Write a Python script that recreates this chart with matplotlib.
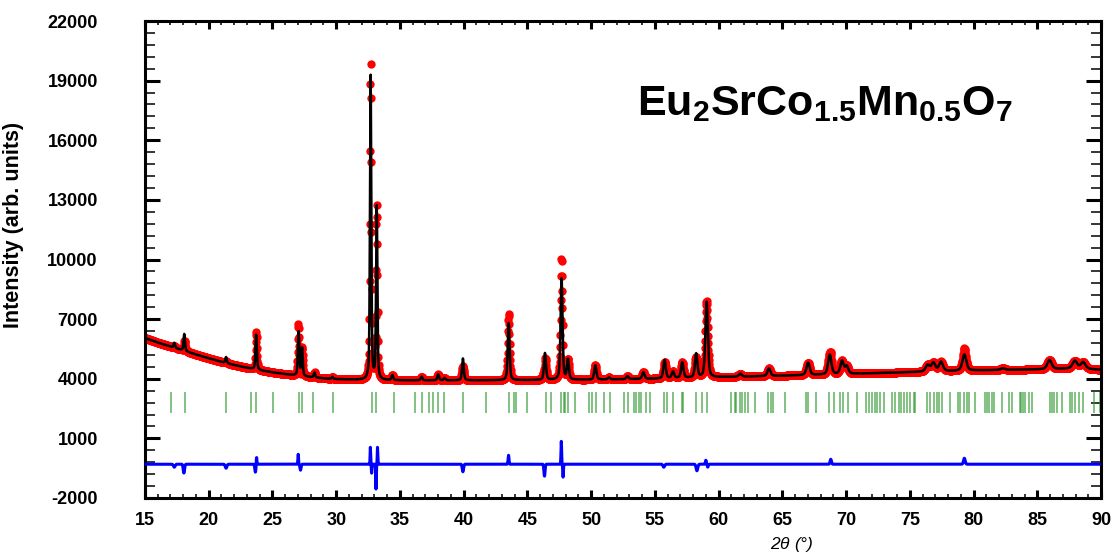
#!/usr/bin/env python3
"""Rietveld refinement plot for Eu2SrCo1.5Mn0.5O7 (observed, calculated, Bragg, difference)."""

import numpy as np
import matplotlib

matplotlib.use("Agg")
import matplotlib.pyplot as plt

plt.rcParams["font.family"] = ["Liberation Sans", "DejaVu Sans"]
plt.rcParams["axes.unicode_minus"] = False
plt.rcParams["mathtext.fontset"] = "custom"
plt.rcParams["mathtext.rm"] = "Liberation Sans:bold"
plt.rcParams["mathtext.bf"] = "Liberation Sans:bold"
plt.rcParams["mathtext.it"] = "Liberation Sans:italic"

# background knots (2theta, counts)
bg_theta = [15, 16, 17, 18, 19, 20, 21, 22, 23, 24, 25, 26, 27, 28, 29, 30, 32, 35,
            40, 45, 50, 55, 60, 65, 70, 75, 80, 85, 88, 90]
bg_counts = [6050, 5820, 5620, 5420, 5220, 5030, 4850, 4690, 4550, 4430, 4320, 4230,
             4150, 4080, 4020, 3980, 3940, 3920, 3920, 3930, 3950, 4000, 4080, 4150,
             4240, 4330, 4420, 4470, 4520, 4450]

# calculated reflections: position, height above background, FWHM
peak_pos = [17.3, 18.08, 21.36, 23.72, 27.05, 27.32, 28.3, 29.7, 32.7, 33.18, 34.4,
            36.7, 38.0, 38.5, 39.94, 43.53, 46.38, 47.68, 48.18, 50.33, 51.4, 52.85,
            54.1, 55.76, 56.42, 57.15, 58.24, 59.06, 61.7, 63.95, 67.02, 68.72, 69.68,
            70.05, 76.4, 76.85, 77.45, 79.28, 82.3, 85.96, 87.95, 88.6]
peak_height = [250, 850, 300, 1750, 2250, 1400, 250, 100, 15300, 8700, 250,
               180, 300, 120, 1100, 2900, 1350, 5100, 1000, 720, 100, 150,
               330, 930, 330, 790, 1200, 3800, 150, 380, 620, 1000, 650,
               380, 330, 430, 470, 820, 80, 460, 380, 330]
peak_fwhm = [0.13, 0.13, 0.13, 0.13, 0.13, 0.13, 0.13, 0.13, 0.12, 0.12, 0.15,
             0.16, 0.16, 0.16, 0.16, 0.17, 0.18, 0.18, 0.18, 0.2, 0.2, 0.2,
             0.22, 0.22, 0.22, 0.22, 0.22, 0.23, 0.26, 0.28, 0.3, 0.3, 0.3,
             0.3, 0.36, 0.36, 0.36, 0.36, 0.4, 0.4, 0.42, 0.42]

# misfit features (observed minus calculated): position, amplitude, FWHM
diff_pos = [17.3, 18.05, 21.36, 23.66, 23.75, 27.02, 27.2, 32.68, 32.78, 33.12, 33.24,
            39.94, 43.52, 46.34, 47.66, 47.8, 55.7, 58.3, 59.0, 59.15, 68.8, 79.28]
diff_amp = [-150, -450, -200, -400, 400, 500, -300, 850, -450, -1250, 850,
            -380, 450, -600, 1150, -650, -150, -330, 200, -150, 250, 300]
diff_fwhm = [0.15, 0.12, 0.15, 0.10, 0.05, 0.06, 0.10, 0.05, 0.05, 0.05, 0.05,
             0.12, 0.08, 0.10, 0.06, 0.06, 0.15, 0.15, 0.08, 0.08, 0.12, 0.15]

# Bragg reflection positions
bragg_pos = [17.02, 18.14, 21.36, 23.32, 23.71, 25.06, 27.05, 27.32, 28.16, 29.73,
             32.79, 33.15, 34.55, 36.22, 36.71, 37.26, 37.58, 38.02, 38.47, 39.91,
             41.79, 43.57, 43.91, 44.12, 44.96, 46.45, 46.84, 47.65, 47.84, 47.97,
             48.18, 48.75, 49.80, 50.06, 50.37, 51.03, 51.45, 52.55, 52.88, 53.33,
             53.51, 53.72, 53.93, 54.30, 54.64, 55.68, 55.95, 56.39, 57.12, 57.20,
             58.22, 58.69, 59.09, 61.00, 61.26, 61.39, 61.65, 61.84, 62.04, 62.28,
             62.88, 63.88, 64.08, 64.24, 65.18, 66.88, 67.02, 67.64, 68.69, 69.03,
             69.55, 69.73, 70.13, 70.86, 71.57, 71.83, 72.04, 72.25, 72.43, 72.69,
             72.95, 73.61, 73.81, 74.13, 74.34, 74.52, 74.79, 75.05, 75.31, 75.44,
             76.36, 76.62, 76.88, 77.14, 77.27, 77.53, 78.19, 78.79, 78.97, 79.23,
             79.50, 79.62, 80.15, 80.88, 81.07, 81.25, 81.46, 81.59, 82.24, 82.77,
             83.03, 83.63, 83.76, 83.86, 84.02, 84.33, 84.60, 85.98, 86.17, 86.30,
             86.56, 86.95, 87.53, 87.74, 87.95, 88.26, 88.57, 89.43, 89.96]

y_major = list(range(-2000, 22001, 3000))
y_minor = list(range(-2000, 22001, 600))
x_major = list(range(15, 91, 5))
x_minor = list(range(15, 91, 1))

DIFF_OFFSET = -300
BRAGG_LO, BRAGG_HI = 2300, 3350


def pseudo_voigt(x, x0, h, w, eta=0.45):
    u = ((x - x0) / w) ** 2
    return h * (eta / (1 + 4 * u) + (1 - eta) * np.exp(-4 * np.log(2) * u))


def gauss(x, x0, a, w):
    return a * np.exp(-4 * np.log(2) * ((x - x0) / w) ** 2)


two_theta = np.arange(15.0, 90.0001, 0.02)
calc = np.interp(two_theta, bg_theta, bg_counts)
for x0, h, w in zip(peak_pos, peak_height, peak_fwhm):
    calc += pseudo_voigt(two_theta, x0, h, w)
diff = np.zeros_like(two_theta)
for x0, a, w in zip(diff_pos, diff_amp, diff_fwhm):
    diff += gauss(two_theta, x0, a, w)
obs = calc + diff

fig = plt.figure(figsize=(11.12, 5.54), dpi=100)
ax = fig.add_axes([145 / 1112, 1 - 498 / 554, 956 / 1112, 477 / 554])

ax.plot(two_theta, obs, "o", color="#ff0000", ms=6, mew=0, zorder=2)
ax.plot(two_theta, calc, "-", color="black", lw=1.8, zorder=3)
ax.vlines(bragg_pos, BRAGG_LO, BRAGG_HI, color="#2e9a2e", lw=1.3, alpha=0.65, zorder=2)
ax.plot(two_theta, diff + DIFF_OFFSET, "-", color="#0000ff", lw=2.2, zorder=3)

ax.set_xlim(15, 90)
ax.set_ylim(-2000, 22000)
ax.set_xticks(x_major)
ax.set_xticks(x_minor, minor=True)
ax.set_yticks(y_major)
ax.set_yticks(y_minor, minor=True)

for side in ax.spines.values():
    side.set_linewidth(2.2)
ax.tick_params(axis="both", which="both", direction="in", top=True, right=True)
ax.tick_params(axis="y", which="major", length=10.5, width=2.2, pad=34, labelsize=13)
ax.tick_params(axis="y", which="minor", length=7, width=1.1)
ax.tick_params(axis="x", which="major", length=6, width=2.2, pad=10, labelsize=13)
ax.tick_params(axis="x", which="minor", length=3.2, width=1.1)
for lab in ax.get_xticklabels() + ax.get_yticklabels():
    lab.set_fontweight("bold")

ax.set_ylabel("Intensity (arb. units)", fontsize=15.5, fontweight="bold")
ax.yaxis.set_label_coords(-0.127, 0.572)
fig.text(792 / 1112, 1 - 545 / 554, r"2$\theta$ (°)", fontsize=12.5, style="italic",
         ha="center", va="center")

fig.text(637 / 1112, 1 - 115 / 554,
         r"Eu$_{2}$SrCo$_{1.5}$Mn$_{0.5}$O$_{7}$",
         fontsize=31, fontweight="bold", ha="left", va="baseline")

fig.savefig("out.png", dpi=100)
